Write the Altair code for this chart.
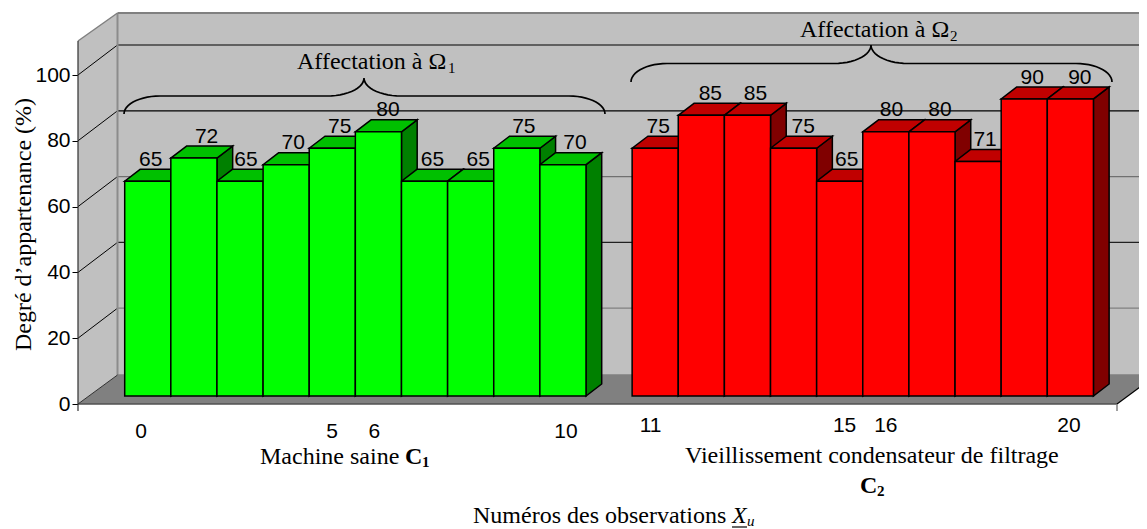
import altair as alt
import numpy as np
import pandas as pd

# ---- values
healthy_values = [65, 72, 65, 70, 75, 80, 65, 65, 75, 70]
aged_values = [75, 85, 85, 75, 65, 80, 80, 71, 90, 90]
y_ticks = [0, 20, 40, 60, 80, 100]
label_nudge_px = [3, 12.7, 6, 7, 7.5, 9.6, 8, 7.5, 7, 12,
                  3, 9, 8, 9.7, 7, 5.6, 8, 7, 8, 9.5]
green_ticks = ["0", "5", "6", "10"]
green_tick_px = [141, 332, 374.3, 566]
red_ticks = ["11", "15", "16", "20"]
red_tick_px = [650.6, 844.6, 885.8, 1069]

# ---- scale helpers: slot units on x, percent on y
SLOT, X0, PCT, Y0 = 46.13, 124.7, 3.29, 404.0
XEND = 1139
def xu(px): return (px - X0) / SLOT
def yu(py): return (Y0 - py) / PCT

XDOM = [xu(78), xu(XEND)]
YDOM = [0, yu(13)]
xs = alt.Scale(domain=XDOM, nice=False, zero=False)
ys = alt.Scale(domain=YDOM, nice=False, zero=False)
DX, DY = 15.7 / SLOT, 12 / PCT          # bar depth
WX, WY = 39.5 / SLOT, 29 / PCT          # chart depth
LIFT, BASE = (Y0 - 395) / PCT, (Y0 - 396) / PCT   # plane of bars

SERIF, SANS = "Liberation Serif", "Liberation Sans"

def xe(f="x"): return alt.X(f"{f}:Q", scale=xs, axis=None, title=None)
def ye(f="y"): return alt.Y(f"{f}:Q", scale=ys, axis=None, title=None, stack=None)

# ---- bar table
slots = list(range(10)) + list(range(11, 21))
bars = pd.DataFrame({
    "slot": slots,
    "v": healthy_values + aged_values,
    "front": ["#00FF00"] * 10 + ["#FF0000"] * 10,
    "top": ["#00C000"] * 10 + ["#C00000"] * 10,
    "side": ["#008000"] * 10 + ["#800000"] * 10,
    "nudge": label_nudge_px,
})
bars["ytop"] = bars.v + LIFT

BW = 1.5
front = alt.Chart(bars.assign(x=bars.slot, x2=bars.slot + 1, y=bars.ytop, y2=BASE)).mark_rect(
    stroke="black", strokeWidth=BW
).encode(xe(), x2="x2:Q", y=ye(), y2="y2:Q", fill=alt.Fill("front:N", scale=None))

side_rows, top_rows = [], []
for r in bars.itertuples():
    for t in (0, 1):
        side_rows.append(dict(slot=r.slot, c=r.side, x=r.slot + 1 + t * DX,
                              y=r.ytop + t * DY, y2=BASE + t * DY))
        top_rows.append(dict(slot=r.slot, c=r.top, x=r.slot + t * DX,
                             x2=r.slot + 1 + t * DX, y=r.ytop + t * DY))
side = alt.Chart(pd.DataFrame(side_rows)).mark_area(stroke="black", strokeWidth=BW).encode(
    xe(), y=ye(), y2="y2:Q", fill=alt.Fill("c:N", scale=None), detail="slot:N")
top = alt.Chart(pd.DataFrame(top_rows)).mark_area(orient="horizontal", stroke="black", strokeWidth=BW).encode(
    alt.X("x:Q", scale=xs, axis=None, title=None, stack=None), x2="x2:Q",
    y=alt.Y("y:Q", scale=ys, axis=None, title=None),
    fill=alt.Fill("c:N", scale=None), detail="slot:N")

# ---- value labels
lab = bars.assign(x=bars.slot + 0.5 + bars.nudge / SLOT, y=bars.ytop + DY + 3.4 / PCT)
labels = alt.Chart(lab).mark_text(font=SANS, fontSize=21, color="black", align="center",
                                  baseline="alphabetic").encode(xe(), y=ye(), text="v:Q")

# ---- walls
XL, XB, XR = xu(78), xu(117.5), xu(XEND)
YW = yu(41)
left_wall = alt.Chart(pd.DataFrame({"x": [XL, XB], "y": [YW, YDOM[1]], "y2": [0, WY]})).mark_area(
    color="#C0C0C0").encode(
    alt.X("x:Q", scale=xs, axis=None, title=None),
    alt.Y("y:Q", scale=ys, stack=None,
          title="Degré d’appartenance (%)",
          axis=alt.Axis(values=y_ticks, domain=False, grid=False, tickColor="black", tickSize=6,
                        tickWidth=1, labelFont=SANS, labelFontSize=21, labelColor="black",
                        labelPadding=2, titleFont=SERIF, titleFontSize=24, titleFontWeight="normal",
                        titleColor="black", titleAngle=270, titleBaseline="alphabetic",
                        titleX=-48, titleY=211, titleAlign="center")),
    y2="y2:Q")
back_wall = alt.Chart(pd.DataFrame({"x": [XB, XR], "y": [YDOM[1]] * 2, "y2": [WY] * 2})).mark_area(
    color="#C0C0C0").encode(xe(), y=ye(), y2="y2:Q")
floor_x = xu(1117)
floor = alt.Chart(pd.DataFrame({"x": [XL, XB, floor_x, floor_x + WX],
                                "y": [0, WY, WY, WY], "y2": [0, 0, 0, WY]})).mark_area(
    color="#808080", clip=True).encode(xe(), y=ye(), y2="y2:Q")

# ---- lines (walls, grid)
GY = 30 / PCT
grid_colors = {100: "#000000", 80: "#000000", 60: "#707070", 40: "#202020", 20: "#808080"}
rules = []
def rule(x, x2, y, y2, c, w): rules.append(dict(x=x, x2=x2, y=y, y2=y2, c=c, w=w))
for v, c in grid_colors.items():
    rule(XB, XR, v + GY, v + GY, c, 1.2)
    rule(XL, XB, v, v + GY, "#000000", 1)
rule(XB, XB, WY, YDOM[1], "#8C8C8C", 2)
rule(XB, XR, YDOM[1], YDOM[1], "#808080", 2)
rule(XL, XB, YW, YDOM[1], "#808080", 1.5)
rule(XB, XR, WY, WY, "#808080", 1.5)
rule(XL, XL, yu(411), YW, "#303030", 1.2)
rule(XL, floor_x, 0, 0, "#505050", 1.6)
rule(XL, XB, 0, WY, "#303030", 1)
rule(floor_x, floor_x + WX, 0, WY, "#000000", 1.2)
rule(floor_x, floor_x, yu(411), 0, "#808080", 1.5)
rule_layer = alt.Chart(pd.DataFrame(rules)).mark_rule(clip=False).encode(
    xe(), x2="x2:Q", y=ye(), y2="y2:Q",
    color=alt.Color("c:N", scale=None), strokeWidth=alt.StrokeWidth("w:Q", scale=None))

# ---- braces (annotation shapes)
def brace(bid, x0, xm, x1, yend, yflat, yapex, rend=36, rmid=37):
    t = np.linspace(0, np.pi / 2, 14)
    he, hm = yend - yflat, yflat - yapex
    px = np.concatenate([x0 + rend - rend * np.cos(t), xm - rmid + rmid * np.sin(t),
                         xm + rmid - rmid * np.sin(t[::-1]), x1 - rend + rend * np.cos(t[::-1])])
    py = np.concatenate([yend - he * np.sin(t), yapex + hm * np.cos(t),
                         yapex + hm * np.cos(t[::-1]), yend - he * np.sin(t[::-1])])
    return pd.DataFrame({"b": bid, "i": range(len(px)), "x": xu(px), "y": yu(py)})
brace_df = pd.concat([brace("a", 124, 364, 605, 114, 96, 78),
                      brace("b", 631, 871, 1112, 82, 63.5, 45)])
braces = alt.Chart(brace_df).mark_line(color="black", strokeWidth=1.7).encode(
    xe(), y=ye(), detail="b:N", order="i:Q")

# ---- texts
def txt(s, px, py, font=SERIF, size=24, weight="normal", style="normal", align="left"):
    d = pd.DataFrame({"x": [xu(px)], "y": [yu(py)], "t": [s]})
    return alt.Chart(d).mark_text(font=font, fontSize=size, fontWeight=weight, fontStyle=style,
                                  align=align, baseline="alphabetic", color="black").encode(
        xe(), y=ye(), text="t:N")

texts = [
    txt("Affectation à Ω", 297, 69), txt("1", 448, 73, size=15),
    txt("Affectation à Ω", 800, 37), txt("2", 950, 41, size=15),
    txt("Machine saine", 260, 464), txt("C", 405, 464, weight="bold"),
    txt("1", 422, 467, size=15, weight="bold"),
    txt("Vieillissement condensateur de filtrage", 685, 463),
    txt("C", 860, 493, weight="bold"), txt("2", 877, 496, size=15, weight="bold"),
    txt("Numéros des observations", 473, 523),
    txt("X", 732, 523, style="italic"), txt("u", 747, 526, size=15, style="italic"),
]
for s, p in zip(green_ticks, green_tick_px):
    texts.append(txt(s, p, 437.5, font=SANS, size=21, align="center"))
for s, p in zip(red_ticks, red_tick_px):
    texts.append(txt(s, p, 432, font=SANS, size=21, align="center"))

under = alt.Chart(pd.DataFrame({"x": [xu(732)], "x2": [xu(747)], "y": [yu(527)], "y2": [yu(527)]})).mark_rule(
    color="black", strokeWidth=1.2).encode(xe(), x2="x2:Q", y=ye(), y2="y2:Q")

chart = alt.layer(
    left_wall, back_wall, floor, rule_layer, side, top, front, labels, braces, under, *texts
).resolve_axis(y="independent").properties(
    width=XEND - 78, height=391,
    padding={"left": 70, "top": 5, "right": 0, "bottom": 125},
    autosize=alt.AutoSizeParams(type="none"),
    background="white",
).configure_view(stroke=None)

chart.save("out.html", embed_options={"renderer": "svg", "actions": False})
